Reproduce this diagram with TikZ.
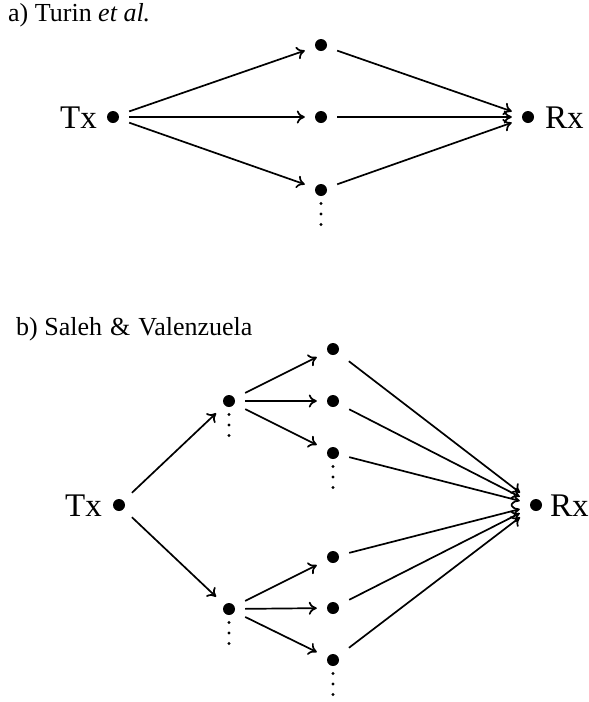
\documentclass[tikz,border=0pt]{standalone}
\usepackage{fontspec}
\setmainfont{Liberation Serif}
\usetikzlibrary{arrows.meta}
\begin{document}
\begin{tikzpicture}[x=1pt,y=-1pt,
  pt/.style={rectangle, minimum width=32pt, minimum height=24pt, inner sep=0pt,
    path picture={\fill (path picture bounding box.center) circle (6pt);}},
  lbl/.style={font=\fontsize{33}{36}\selectfont, inner sep=0pt},
  ttl/.style={font=\fontsize{26}{29}\selectfont, inner sep=0pt, anchor=base west},
  arr/.style={line width=1.7pt, -{To[length=8pt,width=13pt]}},
  sd/.style={fill, circle, inner sep=0pt, minimum size=3.4pt}]
\useasboundingbox (0,0) rectangle (589,702);
% ---- a) ----
\node[ttl] (ta) at (8,21) {a) Turin \textit{et al.}};
\node[pt] (aTx) at (113,117) {};
\node[pt] (am1) at (321,45) {};
\node[pt] (am2) at (321,117) {};
\node[pt] (am3) at (321,190) {};
\node[pt] (aRx) at (528,117) {};
\node[lbl, anchor=base east] (aTxl) at (97,128) {Tx};
\node[lbl, anchor=base west] (aRxl) at (545,128) {Rx};
\foreach \d [count=\i] in {13.5,24,34.5} \node[sd] (ad\i) at (321,190+\d) {};
\foreach \m in {am1,am2,am3} {
  \draw[arr] (aTx) -- (\m);
  \draw[arr] (\m) -- (aRx);
}
% ---- b) ----
\node[ttl] (tb) at (16,335) {b) Saleh\hspace{1.5pt} \&\hspace{1.5pt} Valenzuela};
\node[pt] (bTx) at (119,505) {};
\node[pt] (bf1) at (229,401) {};
\node[pt] (bf2) at (229,609) {};
\node[pt] (bs1) at (333,349) {};
\node[pt] (bs2) at (333,401) {};
\node[pt] (bs3) at (333,453) {};
\node[pt] (bs4) at (333,557) {};
\node[pt] (bs5) at (333,608) {};
\node[pt] (bs6) at (333,660) {};
\node[pt] (bRx) at (536,505) {};
\node[lbl, anchor=base east] (bTxl) at (102,516) {Tx};
\node[lbl, anchor=base west] (bRxl) at (550,516) {Rx};
\foreach \d [count=\i] in {13.5,24,34.5} {
  \node[sd] (bfa\i) at (229,401+\d) {};
  \node[sd] (bfb\i) at (229,609+\d) {};
  \node[sd] (bsa\i) at (333,453+\d) {};
  \node[sd] (bsb\i) at (333,660+\d) {};
}
\draw[arr] (bTx) -- (bf1);
\draw[arr] (bTx) -- (bf2);
\foreach \s in {bs1,bs2,bs3} \draw[arr] (bf1) -- (\s);
\foreach \s in {bs4,bs5,bs6} \draw[arr] (bf2) -- (\s);
\foreach \s in {bs1,bs2,bs3,bs4,bs5,bs6} \draw[arr] (\s) -- (bRx);
\end{tikzpicture}
\end{document}
